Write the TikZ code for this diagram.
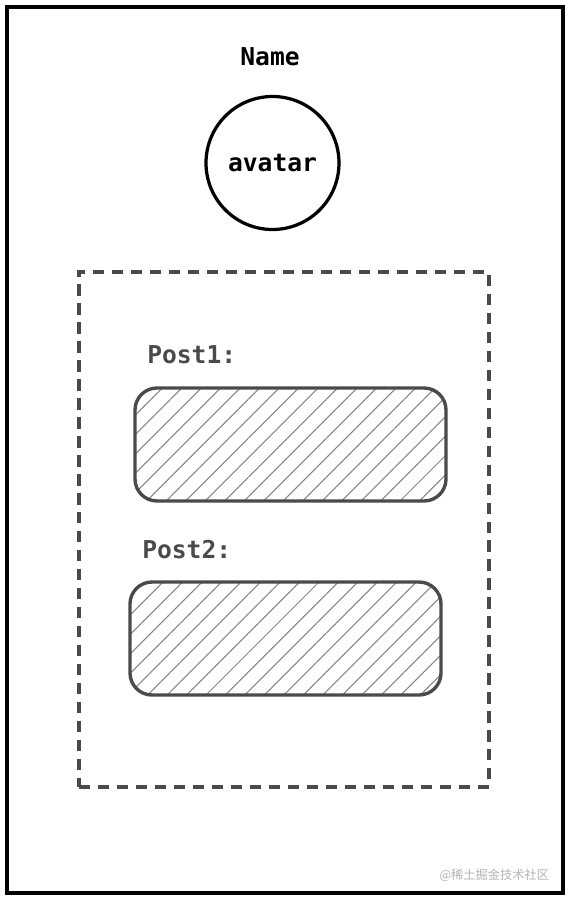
\documentclass[tikz,border=0pt]{standalone}
\usepackage{fontspec}
\setmonofont{DejaVu Sans Mono}
\newfontfamily\cjkfont{Noto Sans CJK SC}
\usepackage{tikz}
\usetikzlibrary{patterns.meta}

\definecolor{inkgray}{HTML}{4A4A4A}
\definecolor{hatchgray}{HTML}{7F858A}

\begin{document}
\begin{tikzpicture}[
  every node/.style = {font=\ttfamily\bfseries\fontsize{17.5}{20}\selectfont},
  label/.style   = {text=inkgray, anchor=west, inner sep=0pt},
  postbox/.style = {rectangle, rounded corners=0.55cm,
                    draw=inkgray, line width=2.4pt,
                    minimum width=7.775cm, minimum height=2.825cm,
                    pattern={Lines[angle=45, distance=9.8pt, line width=0.75pt]},
                    pattern color=hatchgray},
]
\useasboundingbox (0,0) rectangle (14.2,-22.525);

%% ══ FRAME ═══════════════════════════════════════════════════════════════
\node[rectangle, draw=black, line width=2.8pt,
      minimum width=13.9cm, minimum height=22.15cm]
  at (7.125, -11.25) (frame) {};

%% ══ HEADER: name + avatar ═══════════════════════════════════════════════
\node at (6.75, -1.425) (name) {Name};

\node[circle, draw=black, line width=2.3pt, minimum size=3.325cm]
  at (6.8125, -4.075) (avatar) {avatar};

%% ══ POST LIST ═══════════════════════════════════════════════════════════
\node[rectangle, draw=inkgray, line width=2.6pt,
      dash pattern=on 8pt off 5.5pt,
      minimum width=10.25cm, minimum height=12.875cm]
  at (7.1, -13.2375) (posts) {};

\node[label] at (3.675, -8.875) (post1label) {Post1:};
\node[postbox] at (7.2625, -11.1125) (post1) {};

\node[label] at (3.55, -13.75) (post2label) {Post2:};
\node[postbox] at (7.1375, -15.9625) (post2) {};

%% ── watermark ──
\node[anchor=east, text=gray!60, font=\cjkfont\fontsize{8.7}{10}\selectfont]
  at (13.85, -21.875) (mark) {@稀土掘金技术社区};

\end{tikzpicture}
\end{document}
